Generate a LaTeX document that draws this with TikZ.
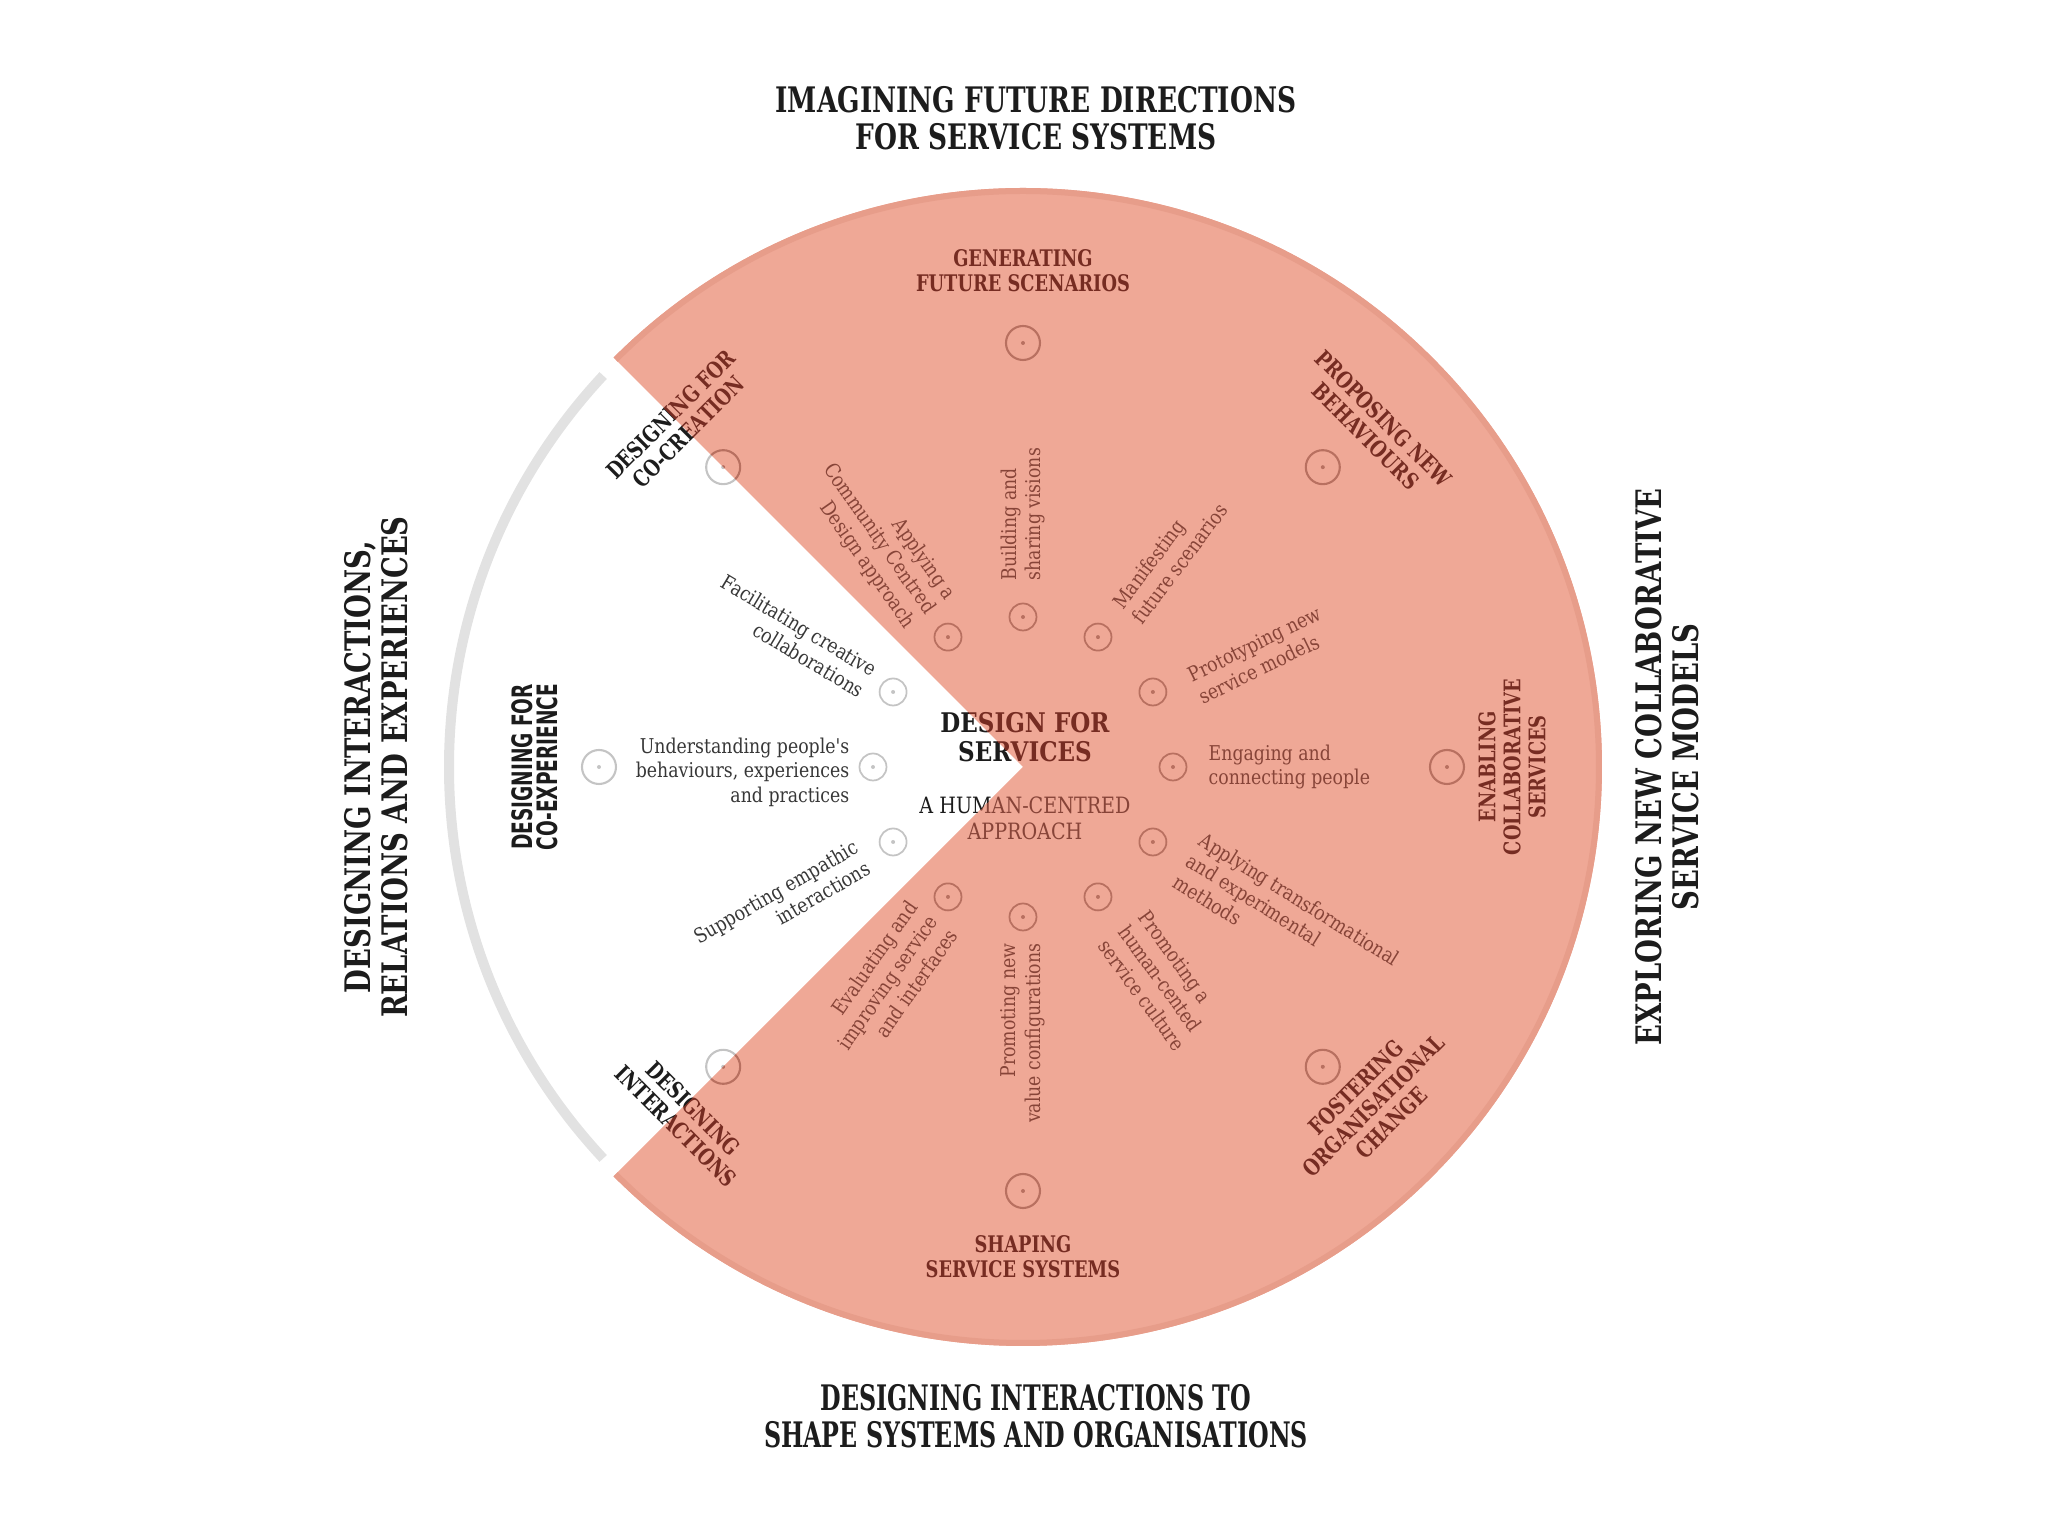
\documentclass[tikz,border=0pt]{standalone}
\usepackage{fontspec}
\setmainfont{DejaVu Serif}
\newfontfamily\slabcond[FakeStretch=0.78]{DejaVu Serif}
\newfontfamily\slabtop[FakeStretch=0.75]{DejaVu Serif}
\newfontfamily\slabbottom[FakeStretch=0.675]{DejaVu Serif}
\newfontfamily\slabtext[FakeStretch=0.85]{DejaVu Serif}
\newfontfamily\sanscond[FakeStretch=0.66]{DejaVu Sans}
\usetikzlibrary{positioning}

\definecolor{salmon}{RGB}{239,168,150}
\definecolor{salmonrim}{RGB}{231,157,138}
\definecolor{rust}{RGB}{118,44,34}
\definecolor{rusttext}{RGB}{135,68,56}
\definecolor{ink}{RGB}{28,28,28}
\definecolor{inktext}{RGB}{55,55,55}
\definecolor{ringgray}{RGB}{226,226,226}
\definecolor{markred}{RGB}{184,112,96}
\definecolor{markgray}{RGB}{196,196,196}

\tikzset{
  outertitle/.style={font=\slabcond\bfseries\fontsize{10}{10.5}\selectfont, align=center, text=ink},
  phaselabel/.style={font=\slabcond\bfseries\fontsize{6.5}{7.1}\selectfont, align=center, text=rust},
  coexp/.style={font=\sanscond\bfseries\fontsize{8}{7.2}\selectfont, align=center, text=ink},
  hubtitle/.style={font=\slabtext\bfseries\fontsize{7.7}{8.2}\selectfont, align=center},
  hubsub/.style={font=\slabtext\fontsize{6.4}{7.4}\selectfont, align=center},
  actlabel/.style={font=\slabtext\fontsize{5.8}{7}\selectfont, text=rusttext, inner sep=0pt},
  actlabelw/.style={actlabel, text=inktext},
  ringmark/.style={circle, draw=#1, line width=0.6pt, minimum size=0.34cm, inner sep=0pt,
    path picture={\fill[#1] (path picture bounding box.center) circle (0.02);}},
  ringmark/.default=markred,
  dotmark/.style={ringmark=#1, minimum size=0.27cm, line width=0.5pt},
  dotmark/.default=markred
}

\begin{document}
\begin{tikzpicture}
    \useasboundingbox (-10.23,-7.69) rectangle (10.25,7.67);
    \fill[salmon] (0,0) -- (135:5.79) arc[start angle=135, end angle=-135, radius=5.79] -- cycle;
    \draw[salmonrim, line width=0.06cm] (135:5.76) arc[start angle=135, end angle=-135, radius=5.76];
    \draw[ringgray, line width=0.10cm] (137:5.74) arc[start angle=137, end angle=223, radius=5.74];

    \node[outertitle, font=\slabtop\bfseries\fontsize{10}{10.5}\selectfont] (future) at (0.13,6.49) {IMAGINING FUTURE DIRECTIONS\\FOR SERVICE SYSTEMS};
    \node[outertitle, font=\slabbottom\bfseries\fontsize{10}{10.5}\selectfont] (systems) at (0.13,-6.49) {DESIGNING INTERACTIONS TO\\SHAPE SYSTEMS AND ORGANISATIONS};
    \node[outertitle, rotate=90] (relations) at (-6.47,0) {DESIGNING INTERACTIONS,\\RELATIONS AND EXPERIENCES};
    \node[outertitle, rotate=90] (models) at (6.44,0) {EXPLORING NEW COLLABORATIVE\\SERVICE MODELS};

    \node[phaselabel] (generating) at (90:4.96) {GENERATING\\FUTURE SCENARIOS};
    \node[phaselabel, rotate=-45] (proposing) at (44:4.89) {PROPOSING NEW\\BEHAVIOURS};
    \node[phaselabel, rotate=90] (enabling) at (0:4.89) {ENABLING\\COLLABORATIVE\\SERVICES};
    \node[phaselabel, rotate=45] (fostering) at (-44:4.87) {FOSTERING\\ORGANISATIONAL\\CHANGE};
    \node[phaselabel] (shaping) at (-90:4.90) {SHAPING\\SERVICE SYSTEMS};
    \node[coexp, rotate=90] (coexperience) at (180:4.88) {DESIGNING FOR\\CO-EXPERIENCE};

    \node[ringmark] (mgenerating) at (90:4.24) {};
    \node[ringmark] (mproposing) at (45:4.24) {};
    \node[ringmark] (menabling) at (0:4.24) {};
    \node[ringmark] (mfostering) at (-45:4.24) {};
    \node[ringmark] (mshaping) at (-90:4.24) {};
    \node[ringmark=markgray] (mcoexperience) at (180:4.24) {};

    \node[dotmark] (mbuilding) at (90:1.5) {};
    \node[dotmark] (mmanifesting) at (60:1.5) {};
    \node[dotmark] (mprototyping) at (30:1.5) {};
    \node[dotmark] (mengaging) at (0:1.5) {};
    \node[dotmark] (mtransforming) at (-30:1.5) {};
    \node[dotmark] (mculture) at (-60:1.5) {};
    \node[dotmark] (mvalue) at (-90:1.5) {};
    \node[dotmark] (mevaluating) at (-120:1.5) {};
    \node[dotmark=markgray] (mempathic) at (-150:1.5) {};
    \node[dotmark=markgray] (munderstanding) at (180:1.5) {};
    \node[dotmark=markgray] (mfacilitating) at (150:1.5) {};
    \node[dotmark] (mcommunity) at (120:1.5) {};

    \node[actlabel, anchor=west, rotate=90, align=left] (building) at (90:1.86) {Building and\\sharing visions};
    \node[actlabel, anchor=west, rotate=53, align=left] (manifesting) at (56:1.85) {Manifesting\\future scenarios};
    \node[actlabel, anchor=west, rotate=26, align=left] (prototyping) at (25:1.89) {Prototyping new\\service models};
    \node[actlabel, anchor=west, align=left] (engaging) at (0:1.85) {Engaging and\\connecting people};
    \node[actlabel, anchor=west, rotate=-32, align=left] (transforming) at (-29:1.89) {Applying transformational\\and experimental\\methods};
    \node[actlabel, anchor=west, rotate=-54, align=left] (culture) at (-58:1.89) {Promoting a\\human-cented\\service culture};
    \node[actlabel, anchor=east, rotate=90, align=right] (value) at (-90:1.76) {Promoting new\\value configurations};
    \node[actlabel, anchor=east, rotate=55, align=right] (evaluating) at (-121:1.75) {Evaluating and\\improving service\\and interfaces};
    \node[actlabelw, anchor=east, rotate=30, align=right] (empathic) at (-151:1.83) {Supporting empathic\\interactions};
    \node[actlabelw, anchor=east, align=right] (understanding) at (-1.73,-0.05) {Understanding people's\\behaviours, experiences\\and practices};
    \node[actlabelw, anchor=east, rotate=-31, align=right] (facilitating) at (151:1.76) {Facilitating creative\\collaborations};
    \node[actlabel, anchor=east, rotate=-55, align=right] (community) at (121:1.80) {Applying a\\Community Centred\\Design approach};

    \begin{scope}
        \clip (0,0) -- (135:7) arc[start angle=135, end angle=225, radius=7] -- cycle;
        \node[hubtitle, text=ink] (hubw) at (0.02,0.30) {DESIGN FOR\\SERVICES};
        \node[hubsub, text=ink] (subw) at (0.02,-0.51) {A HUMAN-CENTRED\\APPROACH};
        \node[phaselabel, text=ink, rotate=45] (cocreationw) at (135:4.86) {DESIGNING FOR\\CO-CREATION};
        \node[phaselabel, text=ink, rotate=-45] (interactionsw) at (-134:4.87) {DESIGNING\\INTERACTIONS};
        \node[ringmark=markgray] (mcocreationw) at (135:4.24) {};
        \node[ringmark=markgray] (minteractionsw) at (-135:4.24) {};
    \end{scope}
    \begin{scope}
        \clip (0,0) -- (135:7) arc[start angle=135, end angle=-135, radius=7] -- cycle;
        \node[hubtitle, text=rust] (hubs) at (0.02,0.30) {DESIGN FOR\\SERVICES};
        \node[hubsub, text=rusttext] (subs) at (0.02,-0.51) {A HUMAN-CENTRED\\APPROACH};
        \node[phaselabel, rotate=45] (cocreations) at (135:4.86) {DESIGNING FOR\\CO-CREATION};
        \node[phaselabel, rotate=-45] (interactionss) at (-134:4.87) {DESIGNING\\INTERACTIONS};
        \node[ringmark] (mcocreations) at (135:4.24) {};
        \node[ringmark] (minteractionss) at (-135:4.24) {};
    \end{scope}
\end{tikzpicture}
\end{document}
